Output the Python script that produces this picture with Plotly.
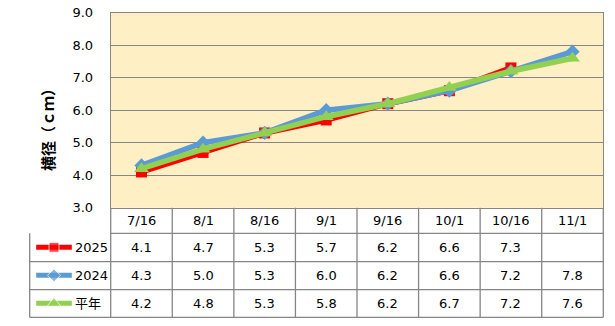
import plotly.graph_objects as go

# Survey dates and fruit diameter (cm)
dates = ["7/16", "8/1", "8/16", "9/1", "9/16", "10/1", "10/16", "11/1"]
series_names = ["2025", "2024", "平年"]
v2025 = [4.1, 4.7, 5.3, 5.7, 6.2, 6.6, 7.3, None]
v2024 = [4.3, 5.0, 5.3, 6.0, 6.2, 6.6, 7.2, 7.8]
vavg = [4.2, 4.8, 5.3, 5.8, 6.2, 6.7, 7.2, 7.6]
y_ticks = [3.0, 4.0, 5.0, 6.0, 7.0, 8.0, 9.0]

W, H = 615, 326
FONT = "DejaVu Sans"
GRID = "#868686"

def px(x):
    return x / W

def py(y):
    return 1 - y / H

# plot area in pixels
L, R, T, B = 110.7, 603.3, 12.7, 207.7
row_edges = [B, 233.3, 261.7, 289.7, 317.3]
leg_left = 29.7

styles = [
    dict(color="#FF0000", symbol="square", size=11),
    dict(color="#5B9BD5", symbol="diamond", size=11),
    dict(color="#92D050", symbol="triangle-up", size=13),
]
all_vals = [v2025, v2024, vavg]
LINE_W = 5.5

fig = go.Figure()

for name, vals, st in zip(series_names, all_vals, styles):
    fig.add_trace(go.Scatter(
        x=dates, y=vals, name=name, mode="lines+markers",
        line=dict(color=st["color"], width=LINE_W),
        marker=dict(color=st["color"], symbol=st["symbol"], size=st["size"]),
        connectgaps=False, showlegend=False, cliponaxis=False,
    ))

# legend keys in the table's first column: row index on y, key span on x
for i, (name, st) in enumerate(zip(series_names, styles)):
    fig.add_trace(go.Scatter(
        x=[0.08, 0.30, 0.52], y=[i, i, i], mode="lines+markers",
        line=dict(color=st["color"], width=5),
        marker=dict(color=st["color"], symbol=st["symbol"],
                    size=[0, st["size"] - 1, 0]),
        xaxis="x2", yaxis="y2", showlegend=False, hoverinfo="skip",
        cliponaxis=False,
    ))

shapes = [
    # plot-area fill
    dict(type="rect", xref="x domain", yref="y domain", x0=0, x1=1, y0=0, y1=1,
         fillcolor="#FFEFC4", line=dict(width=0), layer="below"),
]
annotations = []

TABLE_LINE = dict(color=GRID, width=1.3)

# table horizontal rules
for j, yv in enumerate(row_edges[1:]):
    shapes.append(dict(type="line", xref="paper", yref="paper",
                       x0=px(L if j == 0 else leg_left), x1=px(R),
                       y0=py(yv), y1=py(yv), line=TABLE_LINE, layer="above"))
# legend column left border
shapes.append(dict(type="line", xref="paper", yref="paper",
                   x0=px(leg_left), x1=px(leg_left),
                   y0=py(row_edges[1]), y1=py(row_edges[-1]), line=TABLE_LINE))
# column separators on category boundaries
col_w = (R - L) / len(dates)
for k in range(len(dates) + 1):
    xk = px(L + k * col_w)
    shapes.append(dict(type="line", xref="paper", yref="paper",
                       x0=xk, x1=xk, y0=py(B), y1=py(row_edges[-1]),
                       line=TABLE_LINE))

def cell_text(x, xref, y, text, xanchor="center"):
    return dict(x=x, xref=xref, y=y, yref="paper", text=text, showarrow=False,
                xanchor=xanchor, yanchor="middle",
                font=dict(family=FONT + ", Noto Sans CJK JP", size=13, color="#000"))

# header row: dates
for d in dates:
    annotations.append(cell_text(d, "x", py((row_edges[0] + row_edges[1]) / 2), d))
# value rows
for i, (name, vals) in enumerate(zip(series_names, all_vals)):
    yc = py((row_edges[i + 1] + row_edges[i + 2]) / 2)
    annotations.append(cell_text(px(73), "paper", yc, name, xanchor="left"))
    for d, v in zip(dates, vals):
        if v is None:
            continue
        annotations.append(cell_text(d, "x", yc, f"{v:.1f}"))

# y-axis title
annotations.append(dict(x=px(47), xref="paper", y=py(126), yref="paper",
                        xanchor="center", yanchor="middle",
                        text="<b>横径（ｃｍ）</b>", textangle=-90, showarrow=False,
                        font=dict(family="Noto Sans CJK JP", size=15, color="#000")))

fig.update_layout(
    width=W, height=H,
    autosize=False,
    margin=dict(l=0, r=0, t=0, b=0, pad=0, autoexpand=False),
    paper_bgcolor="white",
    plot_bgcolor="rgba(0,0,0,0)",
    font=dict(family=FONT, size=13, color="#000"),
    xaxis=dict(domain=[px(L), px(R)], type="category", categoryarray=dates,
               range=[-0.5, len(dates) - 0.5], showticklabels=False,
               showgrid=False, zeroline=False, showline=True, mirror=True,
               linecolor=GRID, linewidth=1, fixedrange=True, anchor="y"),
    yaxis=dict(domain=[py(B), py(T)], range=[3, 9], tickvals=y_ticks,
               tickformat=".1f", showgrid=True, gridcolor=GRID, gridwidth=1,
               zeroline=False, showline=True, mirror=True, linecolor=GRID,
               linewidth=1, ticks="", ticklabelstandoff=14, anchor="x",
               tickfont=dict(family=FONT, size=13, color="#000"), fixedrange=True),
    # key column of the data table
    xaxis2=dict(domain=[px(leg_left), px(L)], range=[0, 1], visible=False,
                anchor="y2", fixedrange=True),
    yaxis2=dict(domain=[py(row_edges[-1]), py(row_edges[1])], range=[2.5, -0.5],
                visible=False, anchor="x2", fixedrange=True),
    shapes=shapes,
    annotations=annotations,
)

fig.write_html("out.html")
